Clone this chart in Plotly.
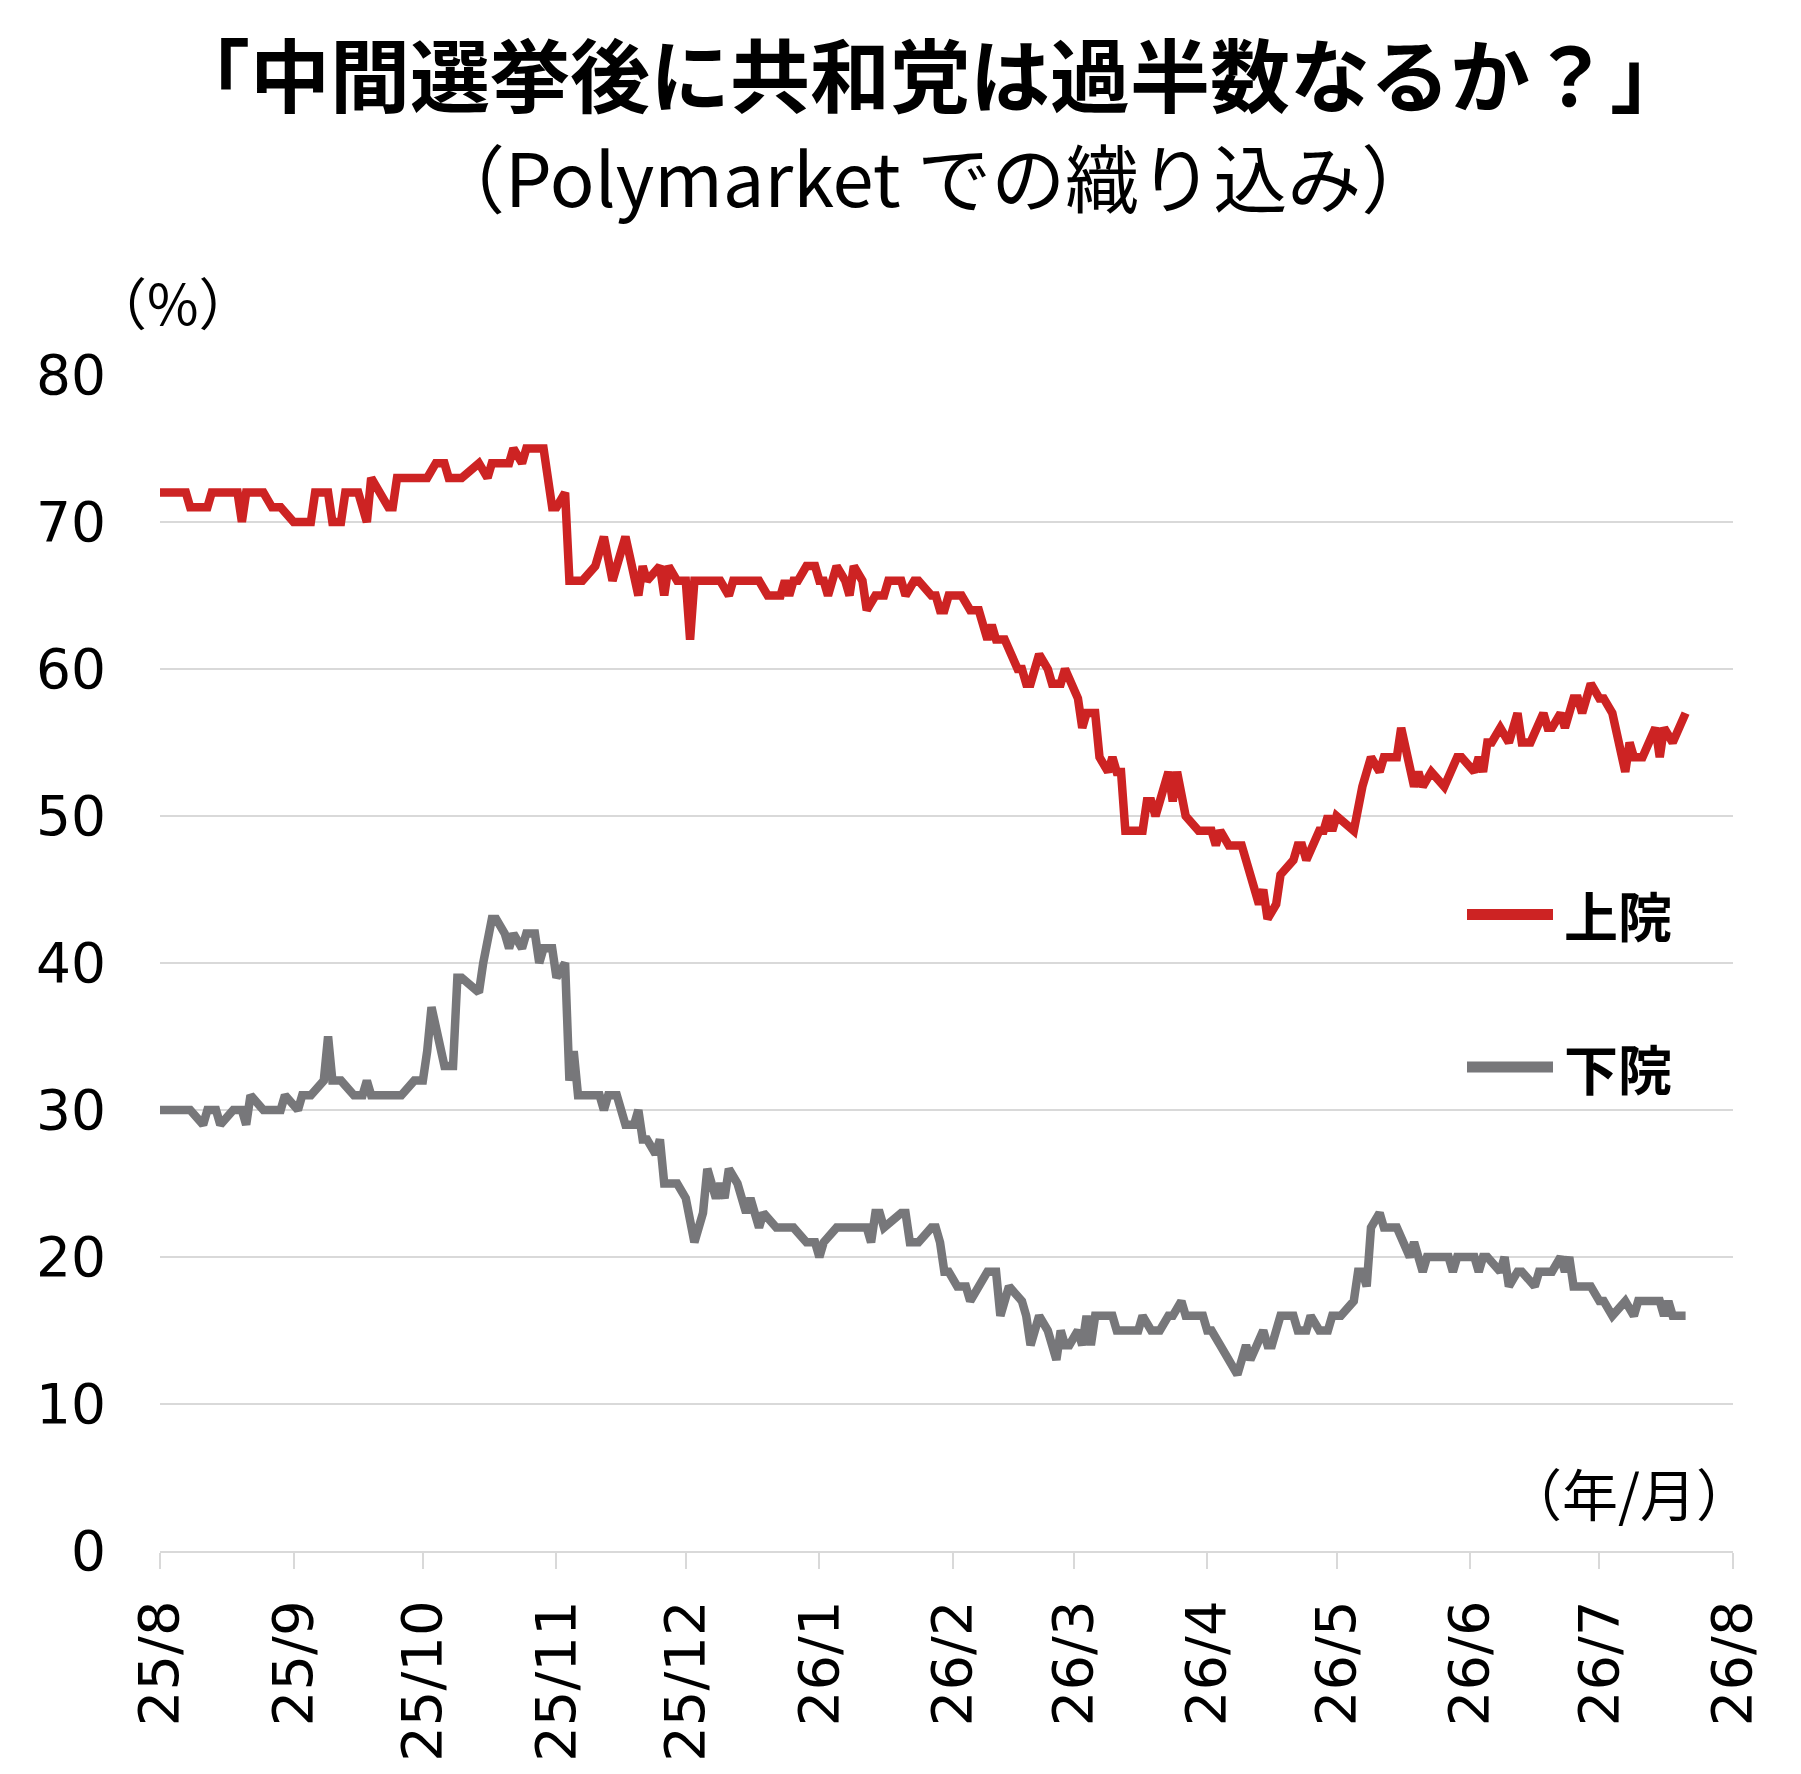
import pandas as pd
import plotly.graph_objects as go

# ---------------- data ----------------
base_date = "2025-08-01"

senate_days = [0, 6, 7, 11, 12, 18, 19, 20, 24, 26, 28, 31, 35, 36, 39, 40, 42, 43, 46, 48, 49, 53, 54, 55, 62,
               64, 66, 67, 70, 74, 76, 77, 81, 82, 84, 85, 89, 91, 92, 94, 95, 98, 101, 103, 105, 108, 111, 112,
               113, 116, 117, 118, 120, 122, 123, 124, 130, 132, 133, 139, 141, 144, 145, 146, 147, 148, 150, 152,
               153, 154, 155, 157, 159, 160, 161, 163, 164, 166, 168, 169, 172, 173, 175, 176, 179, 180, 181, 182,
               183, 186, 188, 190, 192, 193, 194, 196, 199, 200, 201, 202, 204, 206, 207, 209, 210, 213, 214, 215,
               217, 218, 220, 221, 222, 223, 224, 228, 229, 230, 231, 234, 235, 236, 238, 241, 244, 245, 246, 248,
               251, 255, 256, 257, 259, 260, 263, 264, 265, 266, 269, 270, 271, 272, 273, 277, 279, 281, 283, 284,
               287, 288, 291, 292, 293, 295, 298, 301, 302, 305, 306, 307, 308, 309, 311, 313, 315, 316, 318, 321,
               322, 323, 325, 326, 328, 329, 330, 332, 334, 335, 337, 340, 341, 342, 344, 347, 348, 349, 351, 354]
senate_vals = [72, 72, 71, 71, 72, 72, 70, 72, 72, 71, 71, 70, 70, 72, 72, 70, 70, 72, 72, 70, 73, 71, 71, 73, 73,
               74, 74, 73, 73, 74, 73, 74, 74, 75, 74, 75, 75, 71, 71, 72, 66, 66, 67, 69, 66, 69, 65, 67,
               66, 67, 65, 67, 66, 66, 62, 66, 66, 65, 66, 66, 65, 65, 66, 65, 66, 66, 67, 67,
               66, 66, 65, 67, 66, 65, 67, 66, 64, 65, 65, 66, 66, 65, 66, 66, 65, 65, 64, 64,
               65, 65, 64, 64, 62, 63, 62, 62, 60, 60, 59, 59, 61, 60, 59, 59, 60, 58, 56, 57,
               57, 54, 53, 54, 53, 53, 49, 49, 51, 51, 50, 53, 51, 53, 50, 49, 49, 48, 49, 48,
               48, 44, 45, 43, 44, 46, 47, 48, 48, 47, 49, 49, 50, 49, 50, 49, 52, 54, 53, 54,
               54, 56, 52, 53, 52, 53, 52, 54, 54, 53, 54, 53, 55, 55, 56, 55, 57, 55, 55, 57,
               56, 56, 57, 56, 58, 58, 57, 59, 58, 58, 57, 53, 55, 54, 54, 56, 54, 56, 55, 57]

house_days = [0, 7, 10, 11, 13, 14, 17, 19, 20, 21, 24, 28, 29, 32, 33, 35, 38, 39, 40, 42, 45, 47, 48, 49, 56,
              59, 61, 62, 63, 66, 68, 69, 70, 74, 75, 77, 78, 80, 81, 82, 84, 85, 87, 88, 89, 91, 92, 94, 95, 96,
              97, 102, 103, 104, 106, 108, 110, 111, 112, 113, 115, 116, 117, 120, 122, 124, 126, 127, 129, 130,
              131, 132, 134, 136, 137, 139, 140, 143, 147, 150, 152, 153, 154, 157, 164, 165, 166, 167, 168, 172,
              173, 174, 176, 179, 180, 181, 182, 183, 185, 187, 188, 190, 192, 194, 195, 197, 200, 201, 202, 204,
              206, 208, 209, 210, 211, 213, 214, 215, 216, 217, 221, 222, 227, 228, 230, 232, 234, 235, 237, 238,
              242, 243, 244, 246, 248, 250, 252, 253, 256, 257, 258, 260, 263, 264, 266, 267, 269, 271, 272, 274,
              277, 278, 279, 280, 281, 283, 284, 287, 290, 291, 293, 294, 299, 300, 301, 305, 306, 307, 308, 311,
              312, 313, 315, 316, 319, 320, 323, 325, 326, 327, 328, 332, 334, 335, 337, 340, 342, 343, 348, 349,
              350, 351, 354]
house_vals = [30, 30, 29, 30, 30, 29, 30, 30, 29, 31, 30, 30, 31, 30, 31, 31, 32, 35, 32, 32, 31, 31, 32, 31, 31,
              32, 32, 34, 37, 33, 33, 39, 39, 38, 40, 43, 43, 42, 41, 42, 41, 42, 42, 40, 41, 41, 39, 40, 32, 34,
              31, 31, 30, 31, 31, 29, 29, 30, 28, 28, 27, 28, 25, 25, 24, 21, 23, 26, 24, 25,
              24, 26, 25, 23, 24, 22, 23, 22, 22, 21, 21, 20, 21, 22, 22, 21, 23, 23, 22, 23,
              23, 21, 21, 22, 22, 21, 19, 19, 18, 18, 17, 18, 19, 19, 16, 18, 17, 16, 14, 16,
              15, 13, 15, 14, 14, 15, 14, 16, 14, 16, 16, 15, 15, 16, 15, 15, 16, 16, 17, 16,
              16, 15, 15, 14, 13, 12, 14, 13, 15, 14, 14, 16, 16, 15, 15, 16, 15, 15, 16, 16,
              17, 19, 19, 18, 22, 23, 22, 22, 20, 21, 19, 20, 20, 19, 20, 20, 19, 20, 20, 19,
              20, 18, 19, 19, 18, 19, 19, 20, 19, 20, 18, 18, 17, 17, 16, 17, 16, 17, 17, 16,
              17, 16, 16]

tick_dates = ["2025-08-01", "2025-09-01", "2025-10-01", "2025-11-01", "2025-12-01", "2026-01-01", "2026-02-01",
              "2026-03-01", "2026-04-01", "2026-05-01", "2026-06-01", "2026-07-01", "2026-08-01"]
tick_labels = ["25/8", "25/9", "25/10", "25/11", "25/12", "26/1", "26/2", "26/3", "26/4", "26/5", "26/6",
               "26/7", "26/8"]

series_names = ["上院", "下院"]

# ---------------- layout constants ----------------
W, H = 1801, 1774
ML, MR, MT, MB = 160, 68, 375, 213
RED = "#CD2323"
GRAY = "#77777A"
GRID = "#D9D9D9"
JP = "Noto Sans CJK JP"
NUM = "DejaVu Sans"


def px_x(px):
    return (px - ML) / (W - ML - MR)


def px_y(py):
    return (H - MB - py) / (H - MT - MB)


t0 = pd.Timestamp(base_date)
senate_x = [t0 + pd.Timedelta(days=d) for d in senate_days]
house_x = [t0 + pd.Timedelta(days=d) for d in house_days]

fig = go.Figure()
fig.add_trace(go.Scatter(x=senate_x, y=senate_vals, mode="lines", name=series_names[0],
                         line=dict(color=RED, width=8.5), showlegend=False))
fig.add_trace(go.Scatter(x=house_x, y=house_vals, mode="lines", name=series_names[1],
                         line=dict(color=GRAY, width=8.5), showlegend=False))

fig.update_layout(
    width=W, height=H,
    margin=dict(l=ML, r=MR, t=MT, b=MB, pad=0),
    paper_bgcolor="white", plot_bgcolor="white",
    font=dict(family=NUM, color="#000000"),
)

fig.update_xaxes(
    type="date",
    range=[tick_dates[0], tick_dates[-1]],
    tickvals=tick_dates, ticktext=tick_labels,
    tickangle=-90,
    tickfont=dict(family=NUM, size=56, color="#000000"),
    showgrid=False, zeroline=False,
    showline=True, linecolor=GRID, linewidth=2,
    ticks="outside", ticklen=16, tickwidth=2, tickcolor=GRID,
    ticklabelstandoff=9,
)
fig.update_yaxes(
    range=[0, 80], dtick=10, tick0=0,
    tickfont=dict(family=NUM, size=55, color="#000000"),
    showgrid=True, gridcolor=GRID, gridwidth=2,
    zeroline=False, showline=False, ticks="",
    ticklabelstandoff=53,
)

annotations = [
    dict(text="<b>「中間選挙後に共和党は過半数なるか？」</b>", x=px_x(930), y=px_y(68),
         font=dict(family=JP, size=80, color="#000000"), xanchor="center", yanchor="middle"),
    dict(text="（Polymarket での織り込み）", x=px_x(933), y=px_y(173),
         font=dict(family=JP, size=74, color="#000000"), xanchor="center", yanchor="middle"),
    dict(text="（%）", x=px_x(173), y=px_y(300),
         font=dict(family=JP, size=56, color="#000000"), xanchor="center", yanchor="middle"),
    dict(text="（年/月）", x=px_x(1754), y=px_y(1501),
         font=dict(family=JP, size=56, color="#000000"), xanchor="right", yanchor="middle"),
    dict(text="<b>" + series_names[0] + "</b>", x=px_x(1562), y=px_y(919),
         font=dict(family=JP, size=54, color="#000000"), xanchor="left", yanchor="middle"),
    dict(text="<b>" + series_names[1] + "</b>", x=px_x(1562), y=px_y(1073),
         font=dict(family=JP, size=54, color="#000000"), xanchor="left", yanchor="middle"),
]
for a in annotations:
    a.update(xref="paper", yref="paper", showarrow=False)
fig.update_layout(annotations=annotations)

# legend samples
for yy, col in [(919, RED), (1073, GRAY)]:
    fig.add_shape(type="line", xref="paper", yref="paper",
                  x0=px_x(1467), x1=px_x(1553), y0=px_y(yy), y1=px_y(yy),
                  line=dict(color=col, width=11))

fig.write_html("out.html")
